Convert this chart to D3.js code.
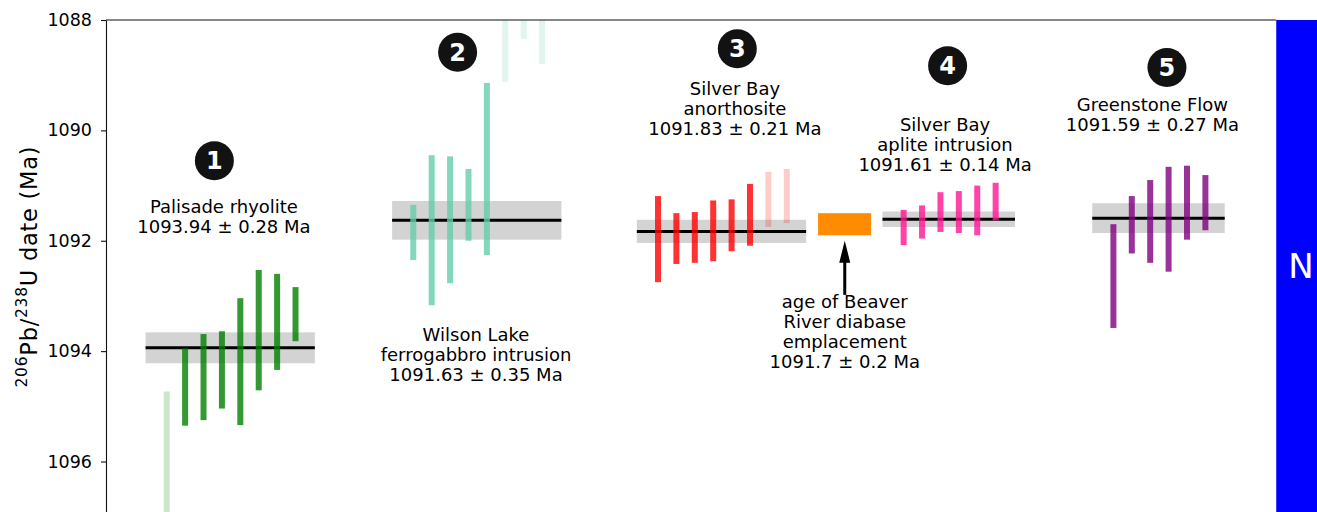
<!DOCTYPE html>
<html>
<head>
<meta charset="utf-8">
<script src="https://cdn.jsdelivr.net/npm/d3@7"></script>
<style>
  body { margin: 0; background: #fff; }
  svg { display: block; }
  text { font-family: "DejaVu Sans", sans-serif; }
</style>
</head>
<body>
<svg id="chart" width="1317" height="512"></svg>
<script>
// 206Pb/238U single-grain dates (Ma) and 2-sigma uncertainties, per unit.
// "used" flags mark grains included in each weighted mean.
const palisadeDates = [1095.90, 1094.65, 1094.47, 1094.34, 1094.19, 1093.62, 1093.47, 1093.33];
const palisadeErrs  = [1.17, 0.70, 0.78, 0.70, 1.15, 1.09, 0.87, 0.49];
const palisadeUsed  = [false, true, true, true, true, true, true, true];

const wilsonDates = [1091.85, 1091.81, 1091.62, 1091.35, 1090.70, 1088.00, 1087.60, 1087.90];
const wilsonErrs  = [0.50, 1.36, 1.15, 0.65, 1.56, 1.12, 0.74, 0.90];
const wilsonUsed  = [true, true, true, true, true, false, false, false];

const anorthositeDates = [1091.97, 1091.96, 1091.94, 1091.82, 1091.72, 1091.53, 1091.25, 1091.19];
const anorthositeErrs  = [0.78, 0.46, 0.46, 0.55, 0.47, 0.56, 0.50, 0.49];
const anorthositeUsed  = [true, true, true, true, true, true, false, false];

const apliteDates = [1091.76, 1091.66, 1091.48, 1091.48, 1091.45, 1091.29];
const apliteErrs  = [0.32, 0.30, 0.36, 0.38, 0.45, 0.34];
const apliteUsed  = [true, true, true, true, true, true];

const greenstoneDates = [1092.64, 1091.71, 1091.65, 1091.61, 1091.31, 1091.31];
const greenstoneErrs  = [0.94, 0.52, 0.75, 0.95, 0.67, 0.50];
const greenstoneUsed  = [true, true, true, true, true, true];

// Weighted mean dates and uncertainties
const unitNames = [["Palisade rhyolite"], ["Wilson Lake", "ferrogabbro intrusion"],
                   ["Silver Bay", "anorthosite"], ["Silver Bay", "aplite intrusion"], ["Greenstone Flow"]];
const unitNumbers = ["1", "2", "3", "4", "5"];
const meanDates = [1093.94, 1091.63, 1091.83, 1091.61, 1091.59];
const meanErrs  = [0.28, 0.35, 0.21, 0.14, 0.27];

// Beaver River diabase emplacement age
const beaverDate = 1091.7;
const beaverErr = 0.2;
const beaverText = ["age of Beaver", "River diabase", "emplacement"];

const yTicks = [1088, 1090, 1092, 1094, 1096];

// ---- styling and layout ----
const unitColors = ["#008000", "#66cdaa", "#ff0000", "#ff1493", "#800080"];
const slotStart = [3.3, 16.7, 30.0, 43.35, 54.75];          // x of first grain, in grain slots
const badgePos  = [[5.89, 1090.55], [19.11, 1088.585], [34.31, 1088.52], [45.74, 1088.83], [57.66, 1088.86]];
const labelPos  = [[6.41, 1091.50], [20.11, 1093.81], [34.18, 1089.36], [45.60, 1090.02], [56.87, 1089.65]];
const beaverX = [38.7, 41.58];
const beaverLabelPos = [40.15, 1093.22];
const beaverArrow = [40.15, 1092.98, 1092.0];
const normalSpan = [63.6, 67];

const units = [
  {dates: palisadeDates, errs: palisadeErrs, used: palisadeUsed},
  {dates: wilsonDates, errs: wilsonErrs, used: wilsonUsed},
  {dates: anorthositeDates, errs: anorthositeErrs, used: anorthositeUsed},
  {dates: apliteDates, errs: apliteErrs, used: apliteUsed},
  {dates: greenstoneDates, errs: greenstoneErrs, used: greenstoneUsed}
].map((u, i) => ({
  ...u, i, name: unitNames[i], num: unitNumbers[i],
  mean: meanDates[i], meanErr: meanErrs[i], color: unitColors[i], start: slotStart[i]
}));

const svg = d3.select("#chart");
const W = 1317, H = 512;
const plotLeft = 106, plotTop = 20;

const x = d3.scaleLinear().domain([0, 66]).range([plotLeft, plotLeft + 66 * 18.4]);
const y = d3.scaleLinear().domain([1088, 1097]).range([plotTop, plotTop + 9 * 55.19]);

svg.append("defs").append("clipPath").attr("id", "plot")
  .append("rect").attr("x", plotLeft).attr("y", plotTop).attr("width", W - plotLeft).attr("height", H - plotTop + 20);

const plot = svg.append("g").attr("clip-path", "url(#plot)");

// normal-polarity band
plot.append("rect")
  .attr("x", x(normalSpan[0])).attr("y", plotTop)
  .attr("width", x(normalSpan[1]) - x(normalSpan[0])).attr("height", H - plotTop + 20)
  .attr("fill", "#0000ff");
svg.append("text")
  .attr("x", 1301).attr("y", 278)
  .attr("text-anchor", "middle").attr("font-size", 34).attr("fill", "#fff")
  .text("N");

// weighted-mean uncertainty bands
units.forEach(u => {
  const x0 = x(u.start - 1.15), x1 = x(u.start + u.dates.length - 1 + 1.05);
  plot.append("rect")
    .attr("x", x0).attr("width", x1 - x0)
    .attr("y", y(u.mean - u.meanErr)).attr("height", y(u.mean + u.meanErr) - y(u.mean - u.meanErr))
    .attr("fill", "#d3d3d3");
  plot.append("line")
    .attr("x1", x0).attr("x2", x1)
    .attr("y1", y(u.mean)).attr("y2", y(u.mean))
    .attr("stroke", "#000").attr("stroke-width", 3);
});

// single-grain dates
const barW = 6;
units.forEach(u => {
  plot.selectAll(null)
    .data(u.dates.map((d, k) => ({d, e: u.errs[k], used: u.used[k], k})))
    .join("rect")
    .attr("x", g => x(u.start + g.k) - barW / 2)
    .attr("width", barW)
    .attr("y", g => y(g.d - g.e))
    .attr("height", g => y(g.d + g.e) - y(g.d - g.e))
    .attr("fill", u.color)
    .attr("fill-opacity", g => g.used ? 0.8 : 0.2);
});

// Beaver River diabase box and arrow
plot.append("rect")
  .attr("x", x(beaverX[0])).attr("width", x(beaverX[1]) - x(beaverX[0]))
  .attr("y", y(beaverDate - beaverErr)).attr("height", y(beaverDate + beaverErr) - y(beaverDate - beaverErr))
  .attr("fill", "#ff8c00");
const ax = x(beaverArrow[0]), aTail = y(beaverArrow[1]), aTip = y(beaverArrow[2]);
svg.append("line")
  .attr("x1", ax).attr("x2", ax).attr("y1", aTail).attr("y2", aTip + 18)
  .attr("stroke", "#000").attr("stroke-width", 3);
svg.append("path")
  .attr("d", `M${ax},${aTip} L${ax - 5.5},${aTip + 22} L${ax + 5.5},${aTip + 22} Z`)
  .attr("fill", "#000");

// text helpers
function multiline(xp, yp, lines) {
  const t = svg.append("text").attr("text-anchor", "middle").attr("font-size", 18).attr("fill", "#000");
  lines.forEach((s, k) => t.append("tspan").attr("x", xp).attr("y", yp + k * 20).text(s));
}

units.forEach((u, i) => {
  const lines = [...u.name, `${u.mean.toFixed(2)} ± ${u.meanErr.toFixed(2)} Ma`];
  multiline(x(labelPos[i][0]), y(labelPos[i][1]), lines);
  const bx = x(badgePos[i][0]), by = y(badgePos[i][1]);
  svg.append("circle").attr("cx", bx).attr("cy", by).attr("r", 19.5).attr("fill", "#121212");
  svg.append("text").attr("x", bx).attr("y", by).attr("dy", "0.36em")
    .attr("text-anchor", "middle").attr("font-size", 24).attr("font-weight", "bold")
    .attr("fill", "#fff").text(u.num);
});
multiline(x(beaverLabelPos[0]), y(beaverLabelPos[1]),
  [...beaverText, `${beaverDate.toFixed(1)} ± ${beaverErr.toFixed(1)} Ma`]);

// axes
const yAxis = d3.axisLeft(y).tickValues(yTicks).tickFormat(d3.format("d"))
  .tickSize(5).tickSizeOuter(0).tickPadding(9);
const ag = svg.append("g").attr("transform", `translate(${plotLeft},0)`).call(yAxis);
ag.select(".domain").attr("stroke", "#111").attr("stroke-width", 1.1);
ag.selectAll(".tick line").attr("stroke", "#111").attr("stroke-width", 1.1);
ag.selectAll(".tick text").attr("font-size", 17.5).attr("fill", "#000")
  .attr("font-family", "DejaVu Sans, sans-serif");

svg.append("line").attr("x1", plotLeft).attr("x2", x(normalSpan[0]))
  .attr("y1", plotTop).attr("y2", plotTop).attr("stroke", "#111").attr("stroke-width", 1.1);

// y-axis title
const yl = svg.append("text")
  .attr("transform", "translate(37,267) rotate(-90)")
  .attr("text-anchor", "middle").attr("font-size", 22.5).attr("fill", "#000")
  .attr("textLength", 241).attr("lengthAdjust", "spacing");
yl.append("tspan").attr("font-size", 15.5).attr("dy", -10).text("206");
yl.append("tspan").attr("dy", 10).text("Pb/");
yl.append("tspan").attr("font-size", 15.5).attr("dy", -10).text("238");
yl.append("tspan").attr("dy", 10).text("U date (Ma)");
</script>
</body>
</html>
